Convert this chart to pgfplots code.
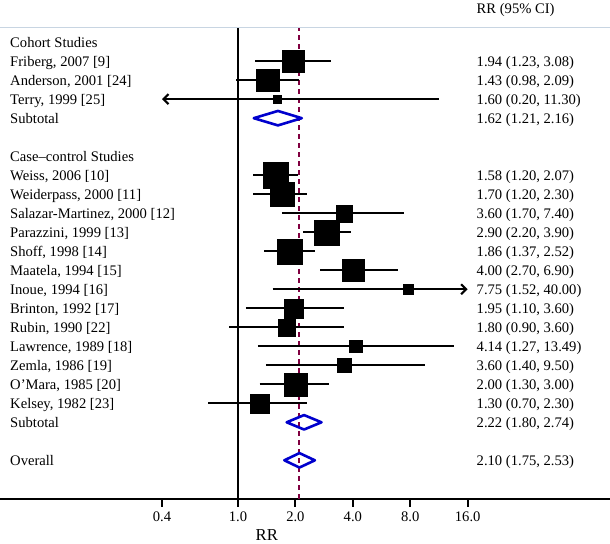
\documentclass[border=0pt]{standalone}
\usepackage{fontspec}
\setmainfont{Liberation Serif}
\usepackage{pgfplots}
\pgfplotsset{compat=1.18}
\usepackage{pgfplotstable}
\usetikzlibrary{arrows.meta}
\definecolor{diam}{RGB}{0,0,205}
\definecolor{refl}{RGB}{128,0,64}
\definecolor{topline}{RGB}{200,213,226}
\newcommand\fs{\fontsize{14.6bp}{17bp}\selectfont}

% y = vertical position (23 = top row), est, lo, hi, square side (px)
\pgfplotstableread{
y  est   lo    hi     side
22 1.94  1.23  3.08   22
21 1.43  0.98  2.09   22.6
20 1.60  0.20  11.30  8
16 1.58  1.20  2.07   25.5
15 1.70  1.20  2.30   24.5
14 3.60  1.70  7.40   17
13 2.90  2.20  3.90   25
12 1.86  1.37  2.52   25
11 4.00  2.70  6.90   21.7
10 7.75  1.52  40.00  10
9  1.95  1.10  3.60   19.3
8  1.80  0.90  3.60   17.3
7  4.14  1.27  13.49  12.3
6  3.60  1.40  9.50   14.7
5  2.00  1.30  3.00   23.3
4  1.30  0.70  2.30   19
}\studies

\begin{document}
\begin{tikzpicture}
\useasboundingbox (0,-45bp) rectangle (610bp,498.9bp);
\begin{axis}[
  at={(0,0)}, anchor=south west,
  scale only axis, width=610bp, height=471.2bp,
  xmode=log, xmin=0.0566, xmax=89.1,
  ymin=-1.03, ymax=23.76,
  axis x line=bottom, axis y line=none,
  axis line style={-, black, line width=2bp},
  xtick={0.4,1,2,4,8,16},
  xticklabels={0.4,1.0,2.0,4.0,8.0,16.0},
  minor xtick={}, 
  tick align=outside, major tick length=8bp,
  xtick style={black, line width=1.8bp},
  tick label style={font=\fs},
  xticklabel style={yshift=-1.5bp},
  ytick=\empty,
  clip=false,
  log basis x=10,
]
% top rule
\addplot[topline, line width=1.5bp] coordinates {(0.0566,23.76) (89.1,23.76)};
% null line and overall line
\addplot[black, line width=2bp] coordinates {(1,-1.03) (1,23.76)};
\addplot[refl, line width=2.1bp, dash pattern=on 5bp off 4bp] coordinates {(2.10,-1.03) (2.10,23.76)};

% confidence intervals
\addplot[black, line width=2.1bp] coordinates {(1.23,22) (3.08,22)};
\addplot[black, line width=2.1bp] coordinates {(0.98,21) (2.09,21)};
\addplot[black, line width=2.1bp, {Straight Barb[length=5bp,width=10bp]}-] coordinates {(0.40,20) (11.30,20)};
\addplot[black, line width=2.1bp] coordinates {(1.20,16) (2.07,16)};
\addplot[black, line width=2.1bp] coordinates {(1.20,15) (2.30,15)};
\addplot[black, line width=2.1bp] coordinates {(1.70,14) (7.40,14)};
\addplot[black, line width=2.1bp] coordinates {(2.20,13) (3.90,13)};
\addplot[black, line width=2.1bp] coordinates {(1.37,12) (2.52,12)};
\addplot[black, line width=2.1bp] coordinates {(2.70,11) (6.90,11)};
\addplot[black, line width=2.1bp, -{Straight Barb[length=5bp,width=10bp]}] coordinates {(1.52,10) (16.0,10)};
\addplot[black, line width=2.1bp] coordinates {(1.10,9) (3.60,9)};
\addplot[black, line width=2.1bp] coordinates {(0.90,8) (3.60,8)};
\addplot[black, line width=2.1bp] coordinates {(1.27,7) (13.49,7)};
\addplot[black, line width=2.1bp] coordinates {(1.40,6) (9.50,6)};
\addplot[black, line width=2.1bp] coordinates {(1.30,5) (3.00,5)};
\addplot[black, line width=2.1bp] coordinates {(0.70,4) (2.30,4)};

% weighted squares
\addplot[scatter, only marks, mark=square*,
  scatter/use mapped color={draw=black, fill=black},
  mark options={line width=0.2bp},
  visualization depends on={\thisrow{side}/2 \as \half},
  scatter/@pre marker code/.append style={/tikz/mark size=\half}]
  table[x=est, y=y] {\studies};

% pooled diamonds
\addplot[diam, line width=2.6bp, line join=round, line cap=round] coordinates {(1.21,19) (1.62,19.38) (2.16,19) (1.62,18.62) (1.21,19)};
\addplot[diam, line width=2.6bp, line join=round, line cap=round] coordinates {(1.80,3) (2.22,3.38) (2.74,3) (2.22,2.62) (1.80,3)};
\addplot[diam, line width=2.6bp, line join=round, line cap=round] coordinates {(1.75,1) (2.10,1.38) (2.53,1) (2.10,0.62) (1.75,1)};

% study labels
\begin{scope}[every node/.style={font=\fs, anchor=base west, inner sep=0pt, yshift=-5.5bp}]
\node at (axis cs:0.0639,23) {Cohort Studies};
\node at (axis cs:0.0639,22) {Friberg, 2007 [9]};
\node at (axis cs:0.0639,21) {Anderson, 2001 [24]};
\node at (axis cs:0.0639,20) {Terry, 1999 [25]};
\node at (axis cs:0.0639,19) {Subtotal};
\node at (axis cs:0.0639,17) {Case–control Studies};
\node at (axis cs:0.0639,16) {Weiss, 2006 [10]};
\node at (axis cs:0.0639,15) {Weiderpass, 2000 [11]};
\node at (axis cs:0.0639,14) {Salazar-Martinez, 2000 [12]};
\node at (axis cs:0.0639,13) {Parazzini, 1999 [13]};
\node at (axis cs:0.0639,12) {Shoff, 1998 [14]};
\node at (axis cs:0.0639,11) {Maatela, 1994 [15]};
\node at (axis cs:0.0639,10) {Inoue, 1994 [16]};
\node at (axis cs:0.0639,9) {Brinton, 1992 [17]};
\node at (axis cs:0.0639,8) {Rubin, 1990 [22]};
\node at (axis cs:0.0639,7) {Lawrence, 1989 [18]};
\node at (axis cs:0.0639,6) {Zemla, 1986 [19]};
\node at (axis cs:0.0639,5) {O’Mara, 1985 [20]};
\node at (axis cs:0.0639,4) {Kelsey, 1982 [23]};
\node at (axis cs:0.0639,3) {Subtotal};
\node at (axis cs:0.0639,1) {Overall};
% estimates
\node at (axis cs:17.8,24.78) {RR (95\% CI)};
\node at (axis cs:17.8,22) {1.94 (1.23, 3.08)};
\node at (axis cs:17.8,21) {1.43 (0.98, 2.09)};
\node at (axis cs:17.8,20) {1.60 (0.20, 11.30)};
\node at (axis cs:17.8,19) {1.62 (1.21, 2.16)};
\node at (axis cs:17.8,16) {1.58 (1.20, 2.07)};
\node at (axis cs:17.8,15) {1.70 (1.20, 2.30)};
\node at (axis cs:17.8,14) {3.60 (1.70, 7.40)};
\node at (axis cs:17.8,13) {2.90 (2.20, 3.90)};
\node at (axis cs:17.8,12) {1.86 (1.37, 2.52)};
\node at (axis cs:17.8,11) {4.00 (2.70, 6.90)};
\node at (axis cs:17.8,10) {7.75 (1.52, 40.00)};
\node at (axis cs:17.8,9) {1.95 (1.10, 3.60)};
\node at (axis cs:17.8,8) {1.80 (0.90, 3.60)};
\node at (axis cs:17.8,7) {4.14 (1.27, 13.49)};
\node at (axis cs:17.8,6) {3.60 (1.40, 9.50)};
\node at (axis cs:17.8,5) {2.00 (1.30, 3.00)};
\node at (axis cs:17.8,4) {1.30 (0.70, 2.30)};
\node at (axis cs:17.8,3) {2.22 (1.80, 2.74)};
\node at (axis cs:17.8,1) {2.10 (1.75, 2.53)};
\end{scope}
% axis title
\node[font=\fontsize{16.7bp}{19bp}\selectfont, anchor=base, inner sep=0pt] at (axis cs:1.416,-3.03) [yshift=-3.5bp] {RR};
\end{axis}
\end{tikzpicture}
\end{document}
